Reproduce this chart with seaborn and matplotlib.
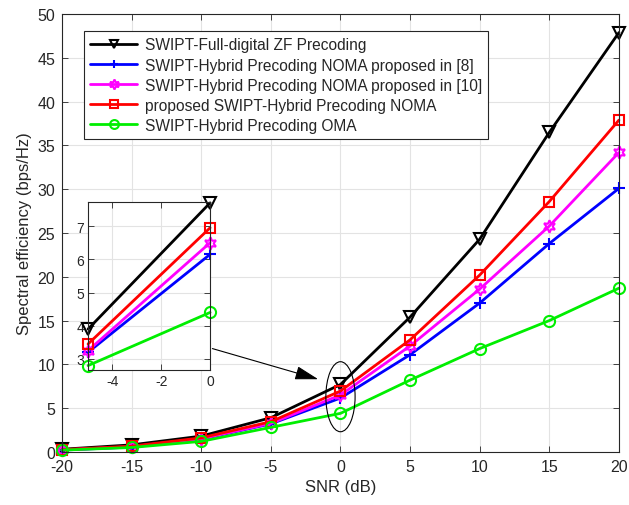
import numpy as np
import pandas as pd
import matplotlib
matplotlib.use("Agg")
import matplotlib.pyplot as plt
from matplotlib.patches import Ellipse
import seaborn as sns

snr = [-20, -15, -10, -5, 0, 5, 10, 15, 20]
full_digital_zf = [0.3, 0.8, 1.8, 3.9, 7.7, 15.4, 24.3, 36.5, 47.9]
hybrid_noma_8 = [0.2, 0.55, 1.45, 3.2, 6.15, 11.1, 17.0, 23.8, 30.1]
hybrid_noma_10 = [0.22, 0.6, 1.5, 3.25, 6.5, 12.1, 18.6, 25.8, 34.2]
proposed_noma = [0.25, 0.65, 1.6, 3.45, 6.95, 12.8, 20.2, 28.6, 37.9]
hybrid_oma = [0.2, 0.5, 1.2, 2.8, 4.4, 8.2, 11.8, 15.0, 18.7]

labels = [
    "SWIPT-Full-digital ZF Precoding",
    "SWIPT-Hybrid Precoding NOMA proposed in [8]",
    "SWIPT-Hybrid Precoding NOMA proposed in [10]",
    "proposed SWIPT-Hybrid Precoding NOMA",
    "SWIPT-Hybrid Precoding OMA",
]
series = [full_digital_zf, hybrid_noma_8, hybrid_noma_10, proposed_noma, hybrid_oma]
colors = ["#000000", "#0000ff", "#ff00ff", "#ff0000", "#00ee00"]
markers = ["v", "+", (6, 1, 0), "s", "o"]
msizes = [8, 8, 9, 7, 8]

sns.set_theme(style="whitegrid")
plt.rcParams["font.family"] = ["Liberation Sans", "DejaVu Sans"]
plt.rcParams["axes.unicode_minus"] = False

fig = plt.figure(figsize=(6.29, 5.06), dpi=100)
ax = fig.add_axes([0.0986, 0.105, 0.8854, 0.865])


def draw(axis, sl=slice(None), lw=2.0):
    for vals, lab, c, m, ms in zip(series, labels, colors, markers, msizes):
        sns.lineplot(x=snr[sl], y=vals[sl], ax=axis, color=c, marker=m, markersize=ms,
                     markerfacecolor="none", markeredgecolor=c, markeredgewidth=1.5,
                     linewidth=lw, label=lab, legend=False)
    for ln in axis.get_lines():
        ln.set_clip_on(False)


def style(axis, fs):
    axis.set_facecolor("white")
    axis.grid(True, color="#e3e3e3", linewidth=0.8)
    for sp in axis.spines.values():
        sp.set_color("#262626")
        sp.set_linewidth(0.8)
        sp.set_visible(True)
    axis.tick_params(direction="in", length=4, width=0.6, colors="#262626",
                     labelsize=fs, top=True, right=True, bottom=True, left=True,
                     pad=5)


draw(ax)
style(ax, 11.5)
ax.set_xlim(-20, 20)
ax.set_ylim(0, 50)
ax.set_xticks(snr)
ax.set_yticks(np.arange(0, 51, 5))
ax.set_xlabel("SNR (dB)", fontsize=12, color="#262626")
ax.set_ylabel("Spectral efficiency (bps/Hz)", fontsize=12, color="#262626")

handles, labs = ax.get_legend_handles_labels()
leg = ax.legend(handles, labs, loc="upper left", bbox_to_anchor=(0.026, 0.979),
                fontsize=11.2, frameon=True, fancybox=False, framealpha=1,
                edgecolor="#262626", handlelength=3.0, borderpad=0.4,
                labelspacing=0.33, handletextpad=0.5, markerscale=0.8)
leg.get_frame().set_linewidth(0.8)

# ellipse highlighting the 0 dB region
ax.add_patch(Ellipse((0, 6.3), width=2.1, height=8.0, fill=False,
                     edgecolor="black", linewidth=0.8, zorder=5))
ax.annotate("", xy=(-1.6, 8.3), xytext=(-9.2, 11.8),
            arrowprops=dict(arrowstyle="-|>,head_length=1.2,head_width=0.35",
                            color="black", linewidth=0.8, shrinkA=0, shrinkB=0),
            zorder=6)

# zoomed view of the -5 dB to 0 dB segment
ins = fig.add_axes([0.14, 0.267, 0.194, 0.332])
draw(ins, sl=slice(3, 5), lw=2.0)
style(ins, 10)
ins.set_xlim(-5, 0)
ins.set_ylim(2.67, 7.73)
ins.set_xticks([-4, -2, 0])
ins.set_yticks([3, 4, 5, 6, 7])
ins.tick_params(pad=3)
ins.set_xlabel("")
ins.set_ylabel("")

fig.savefig("out.png", dpi=100)
